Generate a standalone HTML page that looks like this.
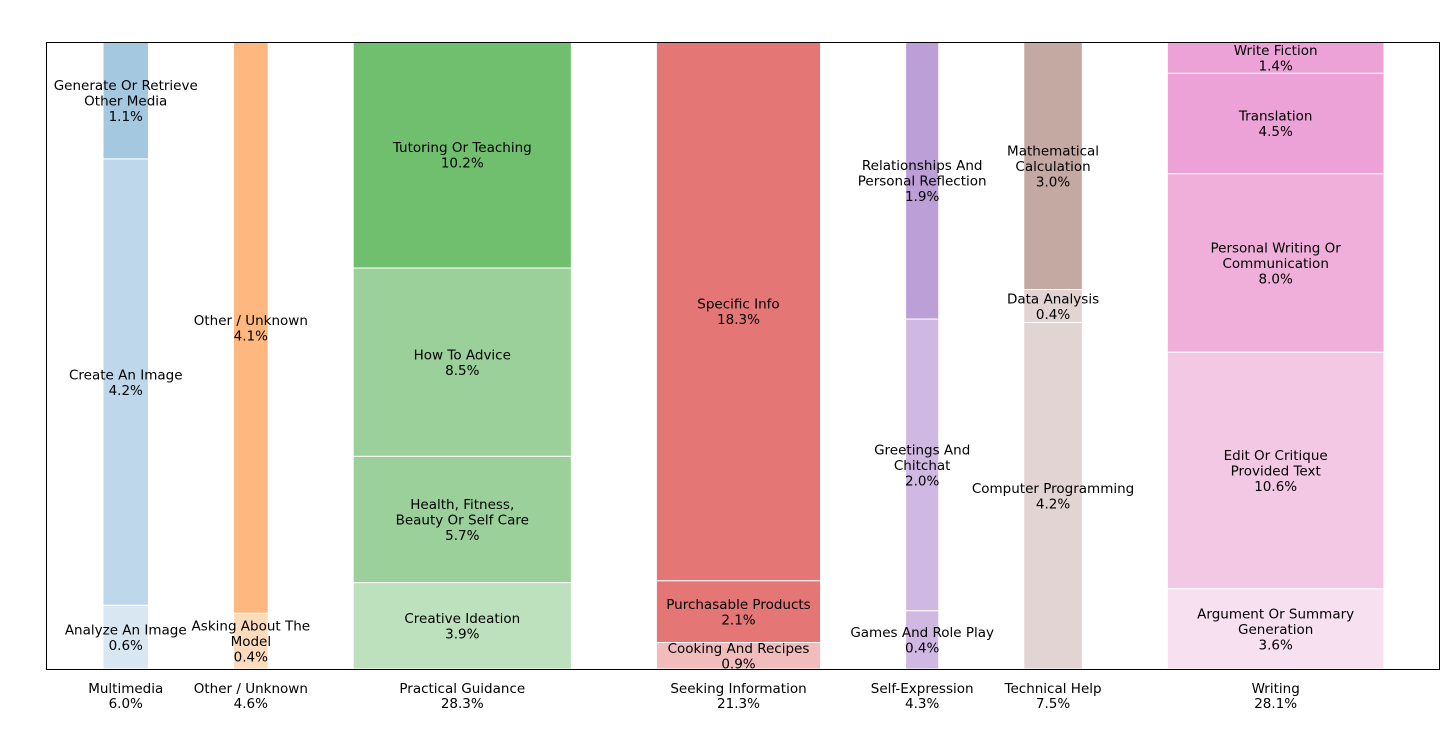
<!DOCTYPE html>
<html><head><meta charset="utf-8"><style>
html,body{margin:0;padding:0;background:#fff;}
svg text{font-family:"DejaVu Sans","Liberation Sans",sans-serif;font-size:13.5px;fill:#000;}
</style></head><body>
<svg id="chart" width="1456" height="724" viewBox="0 0 1456 724" xmlns="http://www.w3.org/2000/svg">
<rect x="0" y="0" width="1456" height="724" fill="#fff"/>
<g id="marks"></g>
<rect x="46.5" y="42.5" width="1393" height="627" fill="none" stroke="#000" stroke-width="1"/>
</svg>
<script>
const groups = ["Multimedia","Other / Unknown","Practical Guidance","Seeking Information","Self-Expression","Technical Help","Writing"];
const groupTotals = [6.0,4.6,28.3,21.3,4.3,7.5,28.1];
const subNames = [
 ["Analyze An Image","Create An Image","Generate Or Retrieve|Other Media"],
 ["Asking About The|Model","Other / Unknown"],
 ["Creative Ideation","Health, Fitness,|Beauty Or Self Care","How To Advice","Tutoring Or Teaching"],
 ["Cooking And Recipes","Purchasable Products","Specific Info"],
 ["Games And Role Play","Greetings And|Chitchat","Relationships And|Personal Reflection"],
 ["Computer Programming","Data Analysis","Mathematical|Calculation"],
 ["Argument Or Summary|Generation","Edit Or Critique|Provided Text","Personal Writing Or|Communication","Translation","Write Fiction"]
];
const subValues = [
 [0.6,4.2,1.1],
 [0.4,4.1],
 [3.9,5.7,8.5,10.2],
 [0.9,2.1,18.3],
 [0.4,2.0,1.9],
 [4.2,0.4,3.0],
 [3.6,10.6,8.0,4.5,1.4]
];
const subColors = [
 ["#d9e7f3","#bfd7ea","#a5c8e1"],
 ["#fddcbd","#feb77e"],
 ["#bde1bc","#9bd09a","#9bd09a","#70bf6f"],
 ["#f2bcbc","#e47676","#e47676"],
 ["#cfb9e2","#cfb9e2","#bd9fd7"],
 ["#e2d4d2","#e2d4d2","#c4a9a2"],
 ["#f7e0f0","#f2c8e5","#efafda","#eca2d6","#eca2d6"]
];
const NS="http://www.w3.org/2000/svg";
const g=document.getElementById('marks');
const X0=46,X1=1439,Y0=42,Y1=669,GAP=85,PADL=57,PADR=55;
const sums=subValues.map(a=>a.reduce((s,v)=>s+v,0));
const total=sums.reduce((s,v)=>s+v,0);
const unit=(X1-X0-PADL-PADR-GAP*(groups.length-1))/total;
function xw(v){return v*unit;}
function yh(v,sum){return (Y1-Y0)*v/sum;}
function txt(x,y,s,name){const t=document.createElementNS(NS,'text');t.setAttribute('x',x);t.setAttribute('y',y);t.setAttribute('text-anchor','middle');t.textContent=s;


g.appendChild(t);return t;}
let x=X0+PADL;
groups.forEach((gn,i)=>{
 const w=xw(sums[i]);let y=Y1;
 subValues[i].forEach((v,j)=>{
  const h=yh(v,sums[i]);
  const r=document.createElementNS(NS,'rect');
  r.setAttribute('x',x);r.setAttribute('y',y-h);r.setAttribute('width',w);r.setAttribute('height',h);
  r.setAttribute('fill',subColors[i][j]);r.setAttribute('stroke','#fff');r.setAttribute('stroke-width','1');
  
  
  g.appendChild(r);
  const lines=subNames[i][j].split('|').concat([v.toFixed(1)+'%']);
  const cy=y-h/2, lh=15.5;
  lines.forEach((l,k)=>{txt(x+w/2,cy-(lines.length-1)*lh/2+k*lh+5,l,'segment-label');});
  y-=h;
 });
 txt(x+w/2,693,gn,'x-category-label');
 txt(x+w/2,708,groupTotals[i].toFixed(1)+'%','x-category-share');
 x+=w+GAP;
});
</script>
</body></html>
